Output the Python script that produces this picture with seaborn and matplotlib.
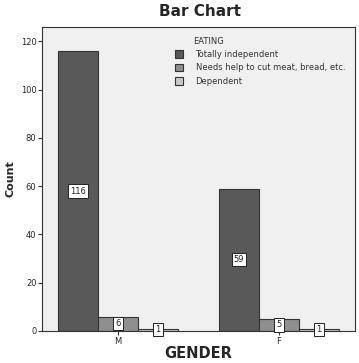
import pandas as pd
import matplotlib.pyplot as plt
import seaborn as sns

genders = ['M', 'F']
eating = ['Totally independent', 'Needs help to cut meat, bread, etc.', 'Dependent']
totally_independent = [116, 59]
needs_help = [6, 5]
dependent = [1, 1]

rows = []
for i, g in enumerate(genders):
    for lvl, vals in zip(eating, [totally_independent, needs_help, dependent]):
        rows.append({'GENDER': g, 'EATING': lvl, 'Count': vals[i]})
df = pd.DataFrame(rows)

sns.set_style('white')
plt.rcParams['font.family'] = ['DejaVu Sans']

fig = plt.figure(figsize=(3.59, 3.63), dpi=100)
ax = fig.add_axes([42 / 359, 32 / 363, 313 / 359, 304 / 363])
ax.set_facecolor('#f0f0f0')

palette = ['#595959', '#8f8f8f', '#cacaca']
sns.barplot(data=df, x='GENDER', y='Count', hue='EATING', order=genders,
            hue_order=eating, palette=palette, width=0.745, saturation=1,
            edgecolor='#333333', linewidth=0.8, ax=ax)

for cont in ax.containers:
    for bar in cont:
        h = bar.get_height()
        ax.text(bar.get_x() + bar.get_width() / 2, h / 2, f'{int(h)}',
                ha='center', va='center', fontsize=6, color='#222222',
                bbox=dict(boxstyle='square,pad=0.25', fc='white', ec='#222222', lw=0.7))

ax.set_xlim(-0.472, 1.472)
ax.set_ylim(0, 126)
ax.set_yticks([0, 20, 40, 60, 80, 100, 120])
ax.tick_params(axis='both', labelsize=6, length=3, width=0.8, color='#333333', pad=1, direction='out')
ax.tick_params(axis='x', bottom=True)
ax.tick_params(axis='y', left=True)
for s in ax.spines.values():
    s.set_color('#333333')
    s.set_linewidth(0.8)

ax.set_xlabel('GENDER', fontsize=10.5, fontweight='bold', labelpad=0)
ax.set_ylabel('Count', fontsize=8, fontweight='bold', labelpad=4)
fig.text(0.5 + 20 / 359, 1 - 11 / 363, 'Bar Chart', ha='center', va='center',
         fontsize=11, fontweight='bold')

# legend without title, title drawn aligned with the labels
leg = ax.legend(loc='upper left', bbox_to_anchor=(0.4, 0.95),
                frameon=False, fontsize=6, handlelength=1,
                handleheight=1, handletextpad=1.5, labelspacing=0.55)
for t in leg.get_texts():
    t.set_color('#333333')
ax.text(193 / 359 * 359, 0, '')
fig.text(193 / 359, 1 - 41 / 363, 'EATING', fontsize=6, color='#333333',
         ha='left', va='center')

fig.savefig('out.png', dpi=100)
